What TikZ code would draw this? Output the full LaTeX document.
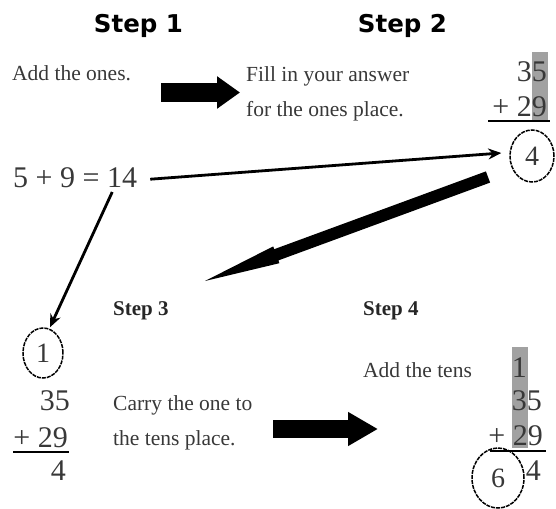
\documentclass[tikz,border=0pt]{standalone}
\usepackage{fontspec}
\setmainfont{Liberation Serif}
\newfontfamily\headfont{DejaVu Sans}
\usetikzlibrary{arrows.meta,shapes.geometric,calc}
\definecolor{txt}{gray}{0.22}
\definecolor{hl}{gray}{0.63}
\begin{document}
\begin{tikzpicture}[x=1pt,y=-1pt,
  lbl/.style={inner sep=0pt, anchor=base west, font=\fontsize{21.5}{21.5}\selectfont, text=txt},
  num/.style={inner sep=0pt, anchor=base east, font=\fontsize{30}{30}\selectfont, text=txt},
  head/.style={inner sep=0pt, anchor=base, font=\headfont\bfseries\fontsize{24.5}{24.5}\selectfont},
  sub/.style={inner sep=0pt, anchor=base west, font=\bfseries\fontsize{21}{21}\selectfont, text=black!85},
  ring/.style={ellipse, draw=black, line width=1.5pt, dash pattern=on 4pt off 1pt, inner sep=0pt, font=\fontsize{28}{28}\selectfont, text=txt},
  thin/.style={line width=2.8pt, -{Stealth[length=13pt,width=11pt]}},
]
\useasboundingbox (0,0) rectangle (556,508);
% highlights
\fill[hl] (532,52) rectangle (548,122);
\fill[hl] (512,347) rectangle (528,448);
% titles
\node[head] (s1) at (138.5,33) {Step 1};
\node[head] (s2) at (402.5,33) {Step 2};
\node[sub] (s3) at (113,315) {Step 3};
\node[sub] (s4) at (363,315) {Step 4};
% texts
\node[lbl] (t1) at (12,81) {Add the ones.};
\node[lbl] (t2a) at (246,82) {Fill in your answer};
\node[lbl] (t2b) at (246,117) {for the ones place.};
\node[lbl] (t3a) at (113,410) {Carry the one to};
\node[lbl] (t3b) at (113,445) {the tens place.};
\node[lbl] (t4) at (363,377) {Add the tens};
% equation
\node[inner sep=0pt, anchor=base west, font=\fontsize{30}{30}\selectfont, text=txt] (eq) at (13,187) {5 + 9 = 14};
% step 2 sum
\node[num] (n2a) at (547,82) {35};
\node[num] (n2b) at (547,117) {+ 29};
\draw[line width=2.5pt] (488,121) -- (550,121);
\node[ring, minimum width=44pt, minimum height=52pt] (c4) at (532,156) {4};
% step 3 sum
\node[ring, minimum width=40pt, minimum height=50pt] (c1) at (43,353) {1};
\node[num] (n3a) at (70,410) {35};
\node[num] (n3b) at (68,447) {+ 29};
\draw[line width=2.5pt] (13,452) -- (69,452);
\node[num] (n3c) at (66,480) {4};
% step 4 sum
\node[num] (n4o) at (527,377) {1};
\node[num] (n4a) at (542,410) {35};
\node[num] (n4b) at (543,445) {+ 29};
\draw[line width=2.5pt] (490,451) -- (546,451);
\node[num] (n4c) at (541,480) {4};
\node[ring, minimum width=52pt, minimum height=60pt] (c6) at (498,478) {6};
% block arrows
\coordinate (a1s) at (161,92.5);
\coordinate (a1e) at (240,92.5);
\draw[line width=19pt, -{Triangle[length=23pt,width=31pt]}] (a1s) -- (a1e);
\coordinate (a2s) at (273,429);
\coordinate (a2e) at (378,429);
\draw[line width=18pt, -{Triangle[length=30pt,width=32pt]}] (a2s) -- (a2e);
% tapered long arrow
\fill[black] (485.9,171.4) -- (274.2,249.2) -- (273.2,246.4) -- (205,281)
  -- (279.4,263.2) -- (278.4,260.4) -- (490.1,182.6) -- cycle;
% thin arrows
\draw[thin] ($(eq.east)+(13,2)$) -- ($(c4.west)+(-8,-3)$);
\draw[thin] ($(eq.base east)+(-25,5)$) -- ($(c1.north)+(7,0)$);
\end{tikzpicture}
\end{document}
